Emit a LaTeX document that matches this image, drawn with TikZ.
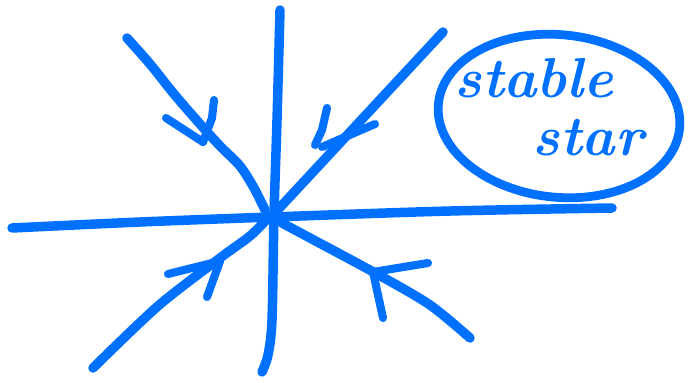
\documentclass[tikz,border=0pt]{standalone}
\usepackage{tikz}
\usetikzlibrary{shapes.geometric}
\definecolor{PenBlue}{HTML}{0070FF}

\begin{document}
\begin{tikzpicture}[
    x=0.02cm, y=-0.02cm,
    pen/.style={PenBlue, line width=5.4pt, line cap=round, line join=round},
    wing/.style={pen, line width=4.6pt},
    hand/.style={PenBlue, font=\fontsize{32}{32}\selectfont\bfseries\itshape, inner sep=0pt}
]
\useasboundingbox (0,0) rectangle (688,382);

% Axes
\draw[pen] plot[smooth] coordinates {(12,228) (140,222) (272,217) (450,211) (612,208)};
\draw[pen] plot[smooth] coordinates {(280,10) (277,120) (274,215) (272,320) (268,355) (262,372)};
\coordinate (O) at (272,216);

% Trajectories into the origin
\draw[pen] plot[smooth] coordinates {(127,38) (150,64) (174,94) (200,124) (220,146) (240,166) (254,188) (265,210)};
\draw[pen] (443,32) -- (O);
\draw[pen] plot[smooth] coordinates {(93,368) (158,306) (220,258) (250,236) (268,218)};
\draw[pen] plot[smooth] coordinates {(282,223) (310,238) (377,274) (430,305) (470,338)};

% Arrowheads
\coordinate (ulTip) at (203,142);
\coordinate (urTip) at (322,147);
\coordinate (llTip) at (220,261);
\coordinate (lrTip) at (373,272);
\draw[wing] (166,118) -- (ulTip);
\draw[wing] (214,100) -- (212,118) -- (ulTip);
\draw[wing] (327,108) -- (322,130) -- (315,145);
\draw[wing] (375,124) -- (urTip);
\draw[wing] (168,274) -- (184,270) -- (llTip);
\draw[wing] (207,297) -- (llTip);
\draw[wing] (428,263) -- (lrTip);
\draw[wing] (383,318) -- (lrTip);

% Label
\node[draw=PenBlue, line width=5pt, ellipse, rotate=-6,
      minimum width=4.85cm, minimum height=3.25cm] (bubble) at (559,116) {};
\node[hand] (word1) at (534,78) {stable};
\node[hand] (word2) at (588,138) {star};
\end{tikzpicture}
\end{document}
